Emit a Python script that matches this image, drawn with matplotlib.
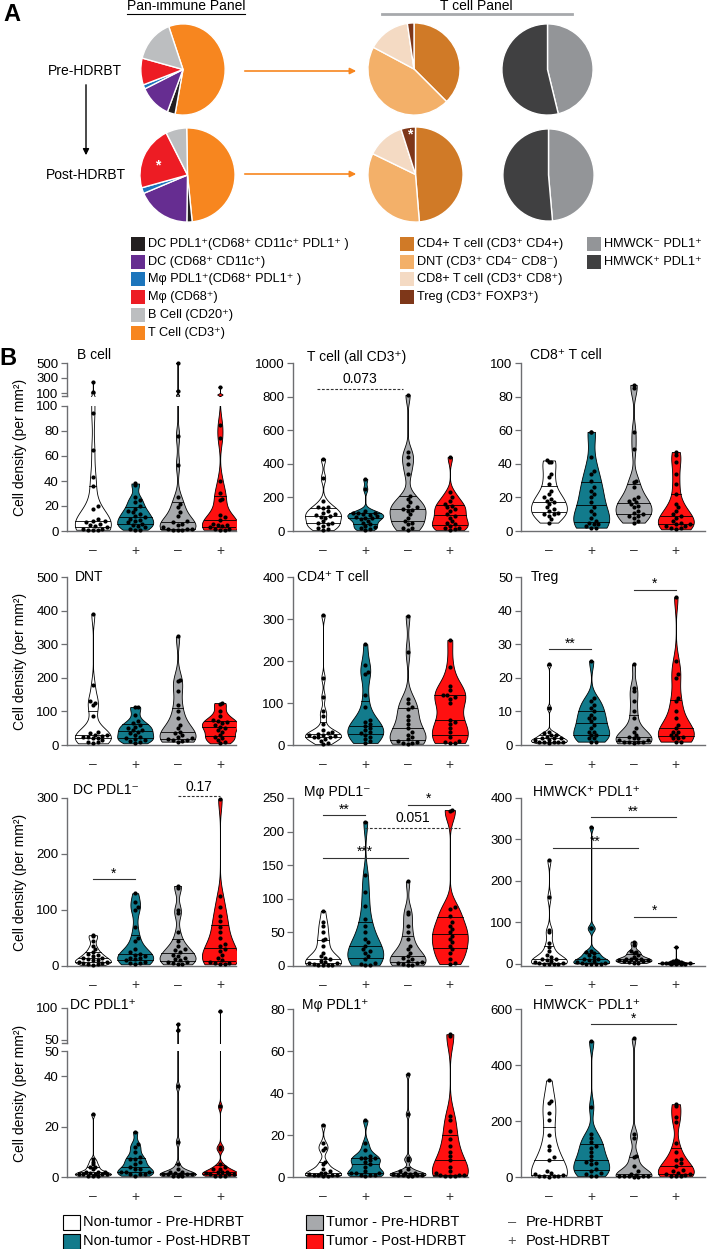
import numpy as np
import matplotlib
matplotlib.use('Agg')
import matplotlib.pyplot as plt
from matplotlib import cbook, mlab
from matplotlib.patches import Rectangle

plt.rcParams['font.family'] = ['Liberation Sans', 'DejaVu Sans']

# ---------------- Panel A data (percent of cells) ----------------
pan_labels = ['T Cell', 'DC PDL1+', 'DC', 'Mphi PDL1+', 'Mphi', 'B Cell']
pan_colors = ['#F7861F', '#231F20', '#662D91', '#1C75BC', '#ED1C24', '#BCBEC0']
pan_pre = [58.5, 3.0, 12.0, 1.5, 9.5, 15.5]
pan_post = [48.7, 1.8, 18.4, 2.0, 22.0, 7.1]

tcell_labels = ['CD4', 'DNT', 'CD8', 'Treg']
tcell_colors = ['#D07A27', '#F3B069', '#F4DAC3', '#7E3719']
tcell_pre = [37.5, 45.3, 14.9, 2.3]
tcell_post = [48.7, 33.5, 12.9, 4.9]

hmw_labels = ['HMWCK- PDL1+', 'HMWCK+ PDL1+']
hmw_colors = ['#939598', '#404041']
hmw_pre = [46.2, 53.8]
hmw_post = [48.6, 51.4]

# ---------------- Panel B data (cells per mm^2) ----------------
group_ticks = ['\u2013', '+', '\u2013', '+']

bc_w = [250, 115, 94, 65, 43, 36, 20, 18, 10, 8, 8, 7, 6, 5, 4, 3, 2, 2, 1, 1, 1]
bc_t = [38, 37, 27, 25, 23, 20, 18, 16, 15, 14, 12, 11, 10, 9, 8, 7, 6, 5, 4, 3, 2, 1, 1]
bc_g = [500, 130, 76, 53, 27, 22, 19, 15, 12, 8, 7, 6, 5, 3, 2, 2, 2, 1, 1, 1]
bc_r = [180, 85, 74, 40, 30, 26, 25, 13, 11, 9, 6, 5, 5, 4, 3, 2, 2, 1, 1]

tc_w = [430, 315, 180, 145, 140, 135, 120, 110, 100, 95, 90, 85, 80, 60, 50, 45, 40, 30, 20, 10, 5]
tc_t = [310, 250, 120, 110, 105, 105, 100, 95, 90, 85, 80, 75, 70, 60, 50, 40, 30, 25, 15, 10, 5]
tc_g = [810, 470, 440, 400, 340, 210, 190, 170, 150, 140, 130, 125, 120, 100, 80, 60, 50, 40, 20, 15, 5]
tc_r = [440, 230, 200, 180, 160, 150, 140, 130, 120, 100, 90, 80, 60, 50, 40, 30, 20, 15, 10, 5]

c8_w = [42, 41, 41, 34, 32, 28, 24, 22, 20, 19, 18, 17, 16, 14, 13, 12, 11, 10, 10, 9, 7, 5]
c8_t = [59, 59, 44, 36, 34, 30, 26, 24, 22, 20, 17, 14, 12, 10, 8, 6, 5, 4, 4, 3, 2, 2]
c8_g = [87, 85, 59, 49, 30, 29, 26, 20, 19, 18, 17, 16, 15, 14, 12, 11, 10, 9, 9, 8, 6, 5]
c8_r = [47, 45, 41, 34, 28, 22, 16, 14, 12, 10, 9, 8, 6, 5, 4, 4, 3, 3, 2, 2, 1]

dn_w = [390, 178, 130, 125, 120, 85, 40, 35, 30, 30, 28, 25, 25, 20, 20, 15, 10, 8, 5]
dn_t = [113, 113, 90, 70, 65, 60, 55, 50, 45, 45, 40, 35, 30, 25, 20, 18, 15, 12, 10, 5]
dn_g = [323, 192, 190, 160, 120, 100, 80, 60, 50, 40, 35, 30, 25, 20, 18, 15, 14, 12, 10]
dn_r = [125, 122, 100, 85, 75, 70, 68, 65, 60, 55, 50, 45, 40, 30, 25, 20, 15, 10, 5]

c4_w = [310, 160, 115, 80, 70, 50, 35, 30, 28, 27, 25, 25, 22, 20, 20, 18, 15, 10, 5, 2]
c4_t = [240, 190, 175, 170, 120, 90, 60, 55, 50, 45, 40, 35, 30, 28, 25, 20, 15, 10, 5]
c4_g = [308, 222, 110, 100, 90, 85, 70, 60, 50, 40, 30, 25, 20, 15, 10, 8, 5, 5, 3]
c4_r = [250, 185, 140, 130, 120, 118, 115, 110, 100, 60, 55, 50, 40, 30, 20, 10, 8, 5, 5]

tr_w = [24, 11, 4, 3.5, 3, 3, 2.5, 2, 2, 2, 1.5, 1.5, 1, 1, 1, 1, 0.8, 0.5]
tr_t = [25, 14, 13, 12, 11, 10, 9, 8, 8, 7, 6, 5, 4, 4, 3, 3, 2, 2, 1, 1]
tr_g = [24, 17, 16, 13, 10, 8, 5, 4, 3, 2.5, 2, 2, 1.5, 1.5, 1, 1, 1, 0.8, 0.5]
tr_r = [44, 25, 21, 20, 14, 13, 10, 8, 6, 5, 4, 4, 3, 3, 2.5, 2, 2, 1, 1]

dcn_w = [55, 53, 45, 35, 30, 25, 22, 20, 18, 15, 14, 12, 10, 10, 8, 8, 6, 5, 4, 3, 2]
dcn_t = [130, 115, 105, 100, 70, 50, 45, 30, 25, 22, 20, 18, 15, 14, 12, 10, 8, 6, 5, 3]
dcn_g = [143, 140, 100, 95, 60, 45, 35, 30, 28, 25, 20, 18, 15, 12, 10, 8, 7, 5, 4, 3]
dcn_r = [298, 125, 105, 90, 80, 70, 60, 50, 40, 35, 30, 27, 20, 15, 10, 8, 6, 5, 4, 3]

mn_w = [82, 65, 60, 50, 40, 38, 30, 20, 15, 12, 10, 8, 6, 5, 4, 3, 2, 2, 1, 1]
mn_t = [215, 135, 110, 90, 70, 60, 50, 40, 35, 30, 25, 22, 20, 15, 10, 5, 3, 2, 1]
mn_g = [126, 80, 78, 60, 50, 40, 30, 25, 20, 15, 12, 10, 8, 6, 5, 4, 3, 2, 1]
mn_r = [232, 230, 88, 85, 75, 65, 60, 55, 50, 45, 40, 35, 30, 25, 20, 10, 5, 3]

hp_w = [250, 160, 80, 75, 50, 40, 30, 20, 15, 12, 10, 8, 5, 3, 2, 1, 0, 0, 0, 0]
hp_t = [330, 85, 85, 30, 28, 25, 20, 15, 12, 10, 8, 5, 3, 2, 1, 0, 0, 0, 0]
hp_g = [53, 45, 30, 28, 25, 20, 15, 12, 12, 10, 10, 8, 8, 5, 5, 3, 2, 1]
hp_r = [40, 8, 5, 5, 4, 3, 3, 2, 2, 2, 1, 1, 1, 1, 0, 0, 0, 0]

dcp_w = [25, 7, 6, 5, 4, 4, 3, 2, 2, 2, 1.5, 1, 1, 1, 1, 1, 0.5, 0.5, 0.5]
dcp_t = [18, 13, 12, 10, 8, 7, 7, 6, 5, 4, 3, 3, 2, 2, 2, 1, 1, 1, 0.5]
dcp_g = [75, 65, 36, 14, 5, 3, 2, 2, 1.5, 1, 1, 1, 1, 1, 0.5, 0.5, 0.5]
dcp_r = [95, 28, 12, 11, 5, 4, 3, 3, 2, 2, 2, 1.5, 1, 1, 1, 0.5, 0.5, 0.5]

mp_w = [25, 16, 14, 13, 7, 6, 4, 3, 2, 2, 1.5, 1, 1, 1, 1, 0.5, 0.5]
mp_t = [27, 16, 13, 10, 9, 9, 9, 8, 7, 6, 5, 3, 2, 2, 2, 1, 1, 1, 0.5]
mp_g = [49, 30, 9, 8, 4, 3, 2, 2, 1.5, 1.5, 1, 1, 1, 1, 0.5, 0.5]
mp_r = [68, 67, 29, 27, 22, 18, 15, 12, 10, 8, 5, 3, 2, 1, 1, 1, 0.5, 0.5, 0.5]

hn_w = [345, 270, 265, 230, 205, 150, 110, 95, 70, 60, 20, 15, 10, 8, 5, 5, 3, 2, 1]
hn_t = [485, 250, 155, 140, 125, 110, 105, 90, 75, 60, 55, 50, 45, 30, 20, 15, 10, 5, 3]
hn_g = [495, 155, 140, 75, 70, 40, 20, 10, 8, 5, 5, 3, 2, 2, 1, 1]
hn_r = [260, 255, 215, 195, 120, 90, 65, 60, 50, 40, 25, 20, 15, 12, 10, 8, 5, 3, 2]

# ---------------- figure ----------------
W, H = 711, 1249
fig = plt.figure(figsize=(W / 100, H / 100), dpi=100)


def rect(l, t, r, b):
    return [l / W, 1 - b / H, (r - l) / W, (b - t) / H]


ov = fig.add_axes([0, 0, 1, 1], zorder=20)
ov.set_xlim(0, W)
ov.set_ylim(H, 0)
ov.axis('off')
ov.patch.set_visible(False)

# ---------- Panel A ----------
ov.text(12, 14, 'A', fontsize=17, fontweight='bold', ha='center', va='center')
ov.text(186, 6, 'Pan-immune Panel', fontsize=10, ha='center', va='center')
ov.plot([127, 245], [13.5, 13.5], color='black', lw=0.8)
ov.text(476, 6, 'T cell Panel', fontsize=10, ha='center', va='center')
ov.plot([382, 572], [14, 14], color='#A7A9AC', lw=2)
ov.text(85, 71, 'Pre-HDRBT', fontsize=10, ha='center', va='center')
ov.text(86, 175, 'Post-HDRBT', fontsize=10, ha='center', va='center')
ov.annotate('', xy=(86, 158), xytext=(86, 82),
            arrowprops=dict(arrowstyle='-|>', color='black', lw=1, mutation_scale=9))
for yy in (71, 174):
    ov.annotate('', xy=(359, yy), xytext=(242, yy),
                arrowprops=dict(arrowstyle='-|>', color='#F7861F', lw=1.2, mutation_scale=9))


def draw_pie(box, vals, colors, start):
    ax = fig.add_axes(rect(*box))
    ax.pie(vals, colors=colors, startangle=start, counterclock=False,
           wedgeprops=dict(edgecolor='white', linewidth=1.0))
    ax.set_aspect('auto')
    ax.set_xlim(-1.02, 1.02)
    ax.set_ylim(-1.02, 1.02)
    ax.axis('off')
    return ax


draw_pie((140, 23, 226, 116), pan_pre, pan_colors, 109.7)
draw_pie((139, 127, 236, 223), pan_post, pan_colors, 91)
draw_pie((367, 22, 461, 116), tcell_pre, tcell_colors, 90)
draw_pie((367, 126, 464, 223), tcell_post, tcell_colors, 90)
draw_pie((501, 23, 594, 116), hmw_pre, hmw_colors, 90)
draw_pie((502, 128, 595, 222), hmw_post, hmw_colors, 90)
ov.text(158, 165, '*', color='white', fontsize=10, ha='center', va='center', fontweight='bold')
ov.text(410, 134, '*', color='white', fontsize=10, ha='center', va='center', fontweight='bold')

legA = [
    (131, ['#231F20', '#662D91', '#1C75BC', '#ED1C24', '#BCBEC0', '#F7861F'],
     ['DC PDL1\u207a(CD68\u207a CD11c\u207a PDL1\u207a )', 'DC (CD68\u207a CD11c\u207a)',
      'M\u03c6 PDL1\u207a(CD68\u207a PDL1\u207a )', 'M\u03c6 (CD68\u207a)', 'B Cell (CD20\u207a)',
      'T Cell (CD3\u207a)']),
    (400, tcell_colors,
     ['CD4+ T cell (CD3\u207a CD4+)', 'DNT (CD3\u207a CD4\u207b CD8\u207b)',
      'CD8+ T cell (CD3\u207a CD8\u207a)', 'Treg (CD3\u207a FOXP3\u207a)']),
    (587, hmw_colors, ['HMWCK\u207b PDL1\u207a', 'HMWCK\u207a PDL1\u207a']),
]
rowsA = [244, 262, 279, 297, 315, 333]
for x0, cols, labs in legA:
    for k, (c, lab) in enumerate(zip(cols, labs)):
        yc = rowsA[k]
        ov.add_patch(Rectangle((x0, yc - 7), 14, 14, facecolor=c, edgecolor='none'))
        ov.text(x0 + 17, yc, lab, fontsize=9.2, ha='left', va='center')

# ---------- Panel B ----------
ov.text(8, 358, 'B', fontsize=17, fontweight='bold', ha='center', va='center')
VCOL = ['white', '#127B8C', '#A7A9AC', '#FF1010']
VW = 0.85
SPINE = '#6D6E71'
DOT = 4.3
cols_px = [(67, 236, -0.61, 3.38), (293, 468, -0.71, 3.43), (521, 705, -0.66, 3.69)]
rows_px = [(363, 531), (577, 745), (798, 966), (1009, 1177)]

panels = [
    dict(r=0, c=0, title='B cell', data=[bc_w, bc_t, bc_g, bc_r], ylim=(0, 100),
         yt=[0, 20, 40, 60, 80, 100], brk=dict(top=(363, 396), low=406, ylim=(60, 500), yt=[100, 300, 500]),
         ann=[]),
    dict(r=0, c=1, title='T cell (all CD3\u207a)', data=[tc_w, tc_t, tc_g, tc_r], ylim=(0, 1000),
         yt=[0, 200, 400, 600, 800, 1000], ann=[(-0.15, 1.9, 845, '0.073', True)]),
    dict(r=0, c=2, title='CD8\u207a T cell', data=[c8_w, c8_t, c8_g, c8_r], ylim=(0, 100),
         yt=[0, 20, 40, 60, 80, 100], ann=[]),
    dict(r=1, c=0, title='DNT', data=[dn_w, dn_t, dn_g, dn_r], ylim=(0, 500),
         yt=[0, 100, 200, 300, 400, 500], ann=[]),
    dict(r=1, c=1, title='CD4\u207a T cell', data=[c4_w, c4_t, c4_g, c4_r], ylim=(0, 400),
         yt=[0, 100, 200, 300, 400], ann=[]),
    dict(r=1, c=2, title='Treg', data=[tr_w, tr_t, tr_g, tr_r], ylim=(0, 50),
         yt=[0, 10, 20, 30, 40, 50], ann=[(0, 1, 28.6, '**', False), (2, 3, 46.2, '*', False)]),
    dict(r=2, c=0, title='DC PDL1\u207b', data=[dcn_w, dcn_t, dcn_g, dcn_r], ylim=(0, 300),
         yt=[0, 100, 200, 300], ann=[(0, 1, 155, '*', False), (2, 3, 303, '0.17', True)]),
    dict(r=2, c=1, title='M\u03c6 PDL1\u207b', data=[mn_w, mn_t, mn_g, mn_r], ylim=(0, 250),
         yt=[0, 50, 100, 150, 200, 250],
         ann=[(0, 1, 224, '**', False), (2, 3, 240, '*', False), (1, 3.25, 206, '0.051', True),
              (0, 2, 161, '***', False)]),
    dict(r=2, c=2, title='HMWCK\u207a PDL1\u207a', data=[hp_w, hp_t, hp_g, hp_r], ylim=(-6, 400),
         yt=[0, 100, 200, 300, 400],
         ann=[(0.1, 2.1, 280, '**', False), (1, 3, 354, '**', False), (2, 3, 113, '*', False)]),
    dict(r=3, c=0, title='DC PDL1\u207a', data=[dcp_w, dcp_t, dcp_g, dcp_r], ylim=(0, 50),
         yt=[0, 20, 40, 50], brk=dict(top=(1008, 1043), low=1051, ylim=(45.3, 100), yt=[50, 100]),
         ann=[]),
    dict(r=3, c=1, title='M\u03c6 PDL1\u207a', data=[mp_w, mp_t, mp_g, mp_r], ylim=(0, 80),
         yt=[0, 20, 40, 60, 80], ann=[]),
    dict(r=3, c=2, title='HMWCK\u207b PDL1\u207a', data=[hn_w, hn_t, hn_g, hn_r], ylim=(0, 600),
         yt=[0, 200, 400, 600], ann=[(1, 3, 545, '*', False)]),
]


def bw_factor(arr):
    n = len(arr)
    sd = np.std(arr, ddof=1)
    q1, q3 = np.percentile(arr, [25, 75])
    sig = min(sd, (q3 - q1) / 1.34) if q3 > q1 else sd
    bw = 0.85 * 0.9 * sig * n ** (-0.2)
    return float(bw / sd)


def style_ax(ax, ylim, yt, xl, xr, bottom=True):
    ax.set_xlim(xl, xr)
    ax.set_ylim(*ylim)
    ax.set_yticks(yt)
    ax.set_yticklabels([str(v) for v in yt])
    for s in ('top', 'right'):
        ax.spines[s].set_visible(False)
    ax.spines['left'].set_color(SPINE)
    ax.spines['bottom'].set_color(SPINE)
    ax.spines['left'].set_linewidth(1.0)
    ax.spines['bottom'].set_linewidth(1.0)
    ax.tick_params(axis='y', direction='out', length=4, width=0.9, color=SPINE,
                   labelsize=9.5, pad=2)
    ax.patch.set_visible(False)
    if bottom:
        ax.set_xticks(range(4))
        ax.set_xticklabels(group_ticks)
        ax.tick_params(axis='x', length=0, labelsize=10, pad=9, labelcolor='#333333')
    else:
        ax.spines['bottom'].set_visible(False)
        ax.set_xticks([])


def swarm(ypix, limits, d):
    """Deterministic beeswarm offsets (pixels), kept inside the violin outline."""
    order = np.argsort(ypix)
    placed = []
    xs = np.zeros(len(ypix))
    step = d * 0.55
    for i in order:
        y = ypix[i]
        lim = max(limits[i], 0.0)
        near = [(px, py) for px, py in placed if abs(py - y) < d]
        best_c, best_score = 0.0, -1.0
        for k in range(80):
            c = ((k + 1) // 2) * step * (1 if k % 2 == 1 else -1)
            if abs(c) > lim + 1e-9:
                if k > 1:
                    continue
                c = 0.0
            if near:
                score = min(np.hypot(c - px, y - py) for px, py in near)
            else:
                score = 1e9
            if score >= d * 0.92:
                best_c = c
                break
            if score > best_score:
                best_score, best_c = score, c
        xs[i] = best_c
        placed.append((best_c, y))
    return xs


for p in panels:
    l, r, xl, xr = cols_px[p['c']]
    t, b = rows_px[p['r']]
    if 'brk' in p:
        bk = p['brk']
        axt = fig.add_axes(rect(l, bk['top'][0], r, bk['top'][1]))
        axl = fig.add_axes(rect(l, bk['low'], r, b))
        style_ax(axt, bk['ylim'], bk['yt'], xl, xr, bottom=False)
        style_ax(axl, p['ylim'], p['yt'], xl, xr, bottom=True)
        axes = [axt, axl]
        axt.plot([xl - 0.12, xl], [bk['ylim'][0]] * 2, color=SPINE, lw=1.0, clip_on=False)
    else:
        axl = fig.add_axes(rect(l, t, r, b))
        style_ax(axl, p['ylim'], p['yt'], xl, xr, bottom=True)
        axes = [axl]

    stats = []
    for d in p['data']:
        arr = np.asarray(d, float)
        f = bw_factor(arr)
        st = cbook.violin_stats(arr, lambda X, coords, f=f: mlab.GaussianKDE(X, f).evaluate(coords),
                                points=300)[0]
        stats.append(st)

    for ax in axes:
        parts = ax.violin(stats, positions=np.arange(4), widths=VW,
                          showmeans=False, showextrema=False, showmedians=False)
        for body, col in zip(parts['bodies'], VCOL):
            body.set_facecolor(col)
            body.set_edgecolor('black')
            body.set_linewidth(0.6)
            body.set_alpha(1)
        for i, (st, d) in enumerate(zip(stats, p['data'])):
            hw = 0.5 * VW * st['vals'] / st['vals'].max()
            for q in np.percentile(d, [25, 50, 75]):
                h = np.interp(q, st['coords'], hw)
                ax.plot([i - h, i + h], [q, q], color='black', lw=0.6, zorder=3)

    # dots (swarm in pixel space, kept inside each violin)
    pxu = axl.transData.transform((1, 0))[0] - axl.transData.transform((0, 0))[0]
    for i, (d, st) in enumerate(zip(p['data'], stats)):
        arr = np.asarray(d, float)
        hwu = 0.5 * VW * st['vals'] / st['vals'].max()
        lims = np.interp(arr, st['coords'], hwu) * pxu - DOT * 0.45
        if 'brk' in p:
            hi = arr > p['ylim'][1]
            ypx = np.where(hi, [axes[0].transData.transform((0, v))[1] for v in arr],
                           [axl.transData.transform((0, v))[1] for v in arr])
        else:
            hi = np.zeros(len(arr), bool)
            ypx = np.array([axl.transData.transform((0, v))[1] for v in arr])
        off = swarm(ypx, lims, DOT) / pxu
        xs = i + off
        axl.scatter(xs[~hi], arr[~hi], s=9, color='black', zorder=5, clip_on=False, linewidths=0)
        if hi.any():
            axes[0].scatter(xs[hi], arr[hi], s=9, color='black', zorder=5, clip_on=False, linewidths=0)

    # annotations
    for x0, x1, yv, lab, dashed in p['ann']:
        axl.plot([x0, x1], [yv, yv], color='#333333', lw=0.8, ls=(0, (2.5, 1.5)) if dashed else '-',
                 clip_on=False)
        axl.annotate(lab, xy=((x0 + x1) / 2, yv), xytext=(0, 2 if dashed else -1),
                     textcoords='offset points', ha='center', va='bottom',
                     fontsize=10, annotation_clip=False)

title_pos = [(77, 355), (307, 357), (530, 355), (75, 577), (297, 577), (531, 577),
             (73, 790), (304, 792), (533, 792), (70, 1005), (302, 1005), (533, 1005)]
for p, (tx, ty) in zip(panels, title_pos):
    ov.text(tx, ty, p['title'], fontsize=10, ha='left', va='center')

for (t, b) in rows_px:
    ov.text(20, (t + b) / 2, 'Cell density (per mm\u00b2)', fontsize=10, rotation=90,
            ha='center', va='center')

# legend B
legB = [(63, 'white', 'Non-tumor - Pre-HDRBT', 1222), (63, '#127B8C', 'Non-tumor - Post-HDRBT', 1241),
        (306, '#A7A9AC', 'Tumor - Pre-HDRBT', 1222), (306, '#FF1010', 'Tumor - Post-HDRBT', 1241)]
for x0, c, lab, yc in legB:
    ov.add_patch(Rectangle((x0, yc - 7.5), 17, 15, facecolor=c, edgecolor='black', lw=0.8))
    ov.text(x0 + 20, yc, lab, fontsize=10.5, ha='left', va='center')
ov.text(512, 1222, '\u2013', fontsize=10.5, ha='center', va='center', color='#555555')
ov.text(526, 1222, 'Pre-HDRBT', fontsize=10.5, ha='left', va='center')
ov.text(512, 1241, '+', fontsize=10.5, ha='center', va='center', color='#555555')
ov.text(526, 1241, 'Post-HDRBT', fontsize=10.5, ha='left', va='center')

fig.savefig('out.png', dpi=100)
